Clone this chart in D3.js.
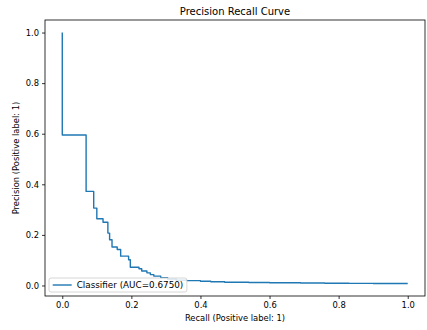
<!DOCTYPE html>
<html>
<head>
<meta charset="utf-8">
<script src="https://cdn.jsdelivr.net/npm/d3@7"></script>
<style>
  html, body { margin: 0; padding: 0; background: #fff; }
  svg { display: block; font-family: "DejaVu Sans", sans-serif; }
</style>
</head>
<body>
<svg id="chart" width="427" height="330"></svg>
<script>
// Precision / recall operating points, ordered by increasing recall.
// Each precision holds on the horizontal run that ends at its recall.
const recall = [0, 0.069, 0.091, 0.100, 0.118, 0.132, 0.137, 0.144, 0.159, 0.169,
                0.192, 0.197, 0.222, 0.230, 0.245, 0.255, 0.265, 0.285, 0.305, 0.330,
                0.360, 0.400, 0.430, 0.470, 0.540, 0.600, 0.690, 0.760, 0.830, 0.900, 1.0];
const precision = [1.0, 0.595, 0.372, 0.306, 0.264, 0.250, 0.207, 0.181, 0.152, 0.142,
                   0.116, 0.102, 0.072, 0.066, 0.057, 0.050, 0.043, 0.037, 0.031, 0.025,
                   0.021, 0.019, 0.017, 0.015, 0.013, 0.012, 0.011, 0.010, 0.009, 0.0085, 0.008];
const xTicks = [0.0, 0.2, 0.4, 0.6, 0.8, 1.0];
const yTicks = [0.0, 0.2, 0.4, 0.6, 0.8, 1.0];
const legendLabel = "Classifier (AUC=0.6750)";

const svg = d3.select("#chart");
const box = { left: 45, right: 425, top: 20, bottom: 296 };
const FONT = 8.4;
const LEGEND_FONT = 8.8;

// Autoscale with a 5% margin on each side of the data range
function padded(ext) {
  const m = (ext[1] - ext[0]) * 0.05;
  return [ext[0] - m, ext[1] + m];
}
const x = d3.scaleLinear().domain(padded(d3.extent(recall))).range([box.left, box.right]);
const y = d3.scaleLinear().domain(padded(d3.extent(precision))).range([box.bottom, box.top]);

const pts = recall.map((r, i) => [r, precision[i]]);

// Curve
svg.append("path")
  .datum(pts)
  .attr("fill", "none")
  .attr("stroke", "#1f77b4")
  .attr("stroke-width", 1.4)
  .attr("stroke-linejoin", "round")
  .attr("d", d3.line().x(d => x(d[0])).y(d => y(d[1])).curve(d3.curveStepBefore));

// Axes
const xAxis = svg.append("g")
  .attr("transform", `translate(0,${box.bottom})`)
  .call(d3.axisBottom(x).tickValues(xTicks).tickFormat(d3.format(".1f")).tickSize(3).tickPadding(3));
const yAxis = svg.append("g")
  .attr("transform", `translate(${box.left},0)`)
  .call(d3.axisLeft(y).tickValues(yTicks).tickFormat(d3.format(".1f")).tickSize(3).tickPadding(3));

[xAxis, yAxis].forEach(g => {
  g.select(".domain").remove();
  g.selectAll(".tick line").attr("stroke", "#000").attr("stroke-width", 0.8);
  g.selectAll(".tick text")
    .attr("fill", "#000")
    .style("font-size", FONT + "px")
    .style("font-family", "DejaVu Sans");
});

// Frame
svg.append("rect")
  .attr("x", box.left).attr("y", box.top)
  .attr("width", box.right - box.left).attr("height", box.bottom - box.top)
  .attr("fill", "none").attr("stroke", "#000").attr("stroke-width", 0.8);

// Title and axis labels
svg.append("text")
  .attr("x", (box.left + box.right) / 2).attr("y", 15)
  .attr("text-anchor", "middle")
  .style("font-size", "10px")
  .text("Precision Recall Curve");

svg.append("text")
  .attr("x", (box.left + box.right) / 2).attr("y", 321)
  .attr("text-anchor", "middle")
  .style("font-size", FONT + "px")
  .text("Recall (Positive label: 1)");

svg.append("text")
  .attr("transform", `translate(19,${(box.top + box.bottom) / 2}) rotate(-90)`)
  .attr("text-anchor", "middle")
  .style("font-size", FONT + "px")
  .text("Precision (Positive label: 1)");

// Legend (lower left)
const lg = svg.append("g");
const lgRect = lg.append("rect")
  .attr("x", 49).attr("y", 278).attr("height", 14)
  .attr("rx", 2).attr("ry", 2)
  .attr("fill", "#fff").attr("fill-opacity", 0.8)
  .attr("stroke", "#cccccc").attr("stroke-width", 0.8);
lg.append("line")
  .attr("x1", 52.7).attr("x2", 71.7).attr("y1", 285).attr("y2", 285)
  .attr("stroke", "#1f77b4").attr("stroke-width", 1.4);
const lgText = lg.append("text")
  .attr("x", 76.7).attr("y", 288.2)
  .style("font-size", LEGEND_FONT + "px")
  .text(legendLabel);
const tw = lgText.node().getComputedTextLength();
lgRect.attr("width", 76.7 + tw + 3.6 - 49);
</script>
</body>
</html>
